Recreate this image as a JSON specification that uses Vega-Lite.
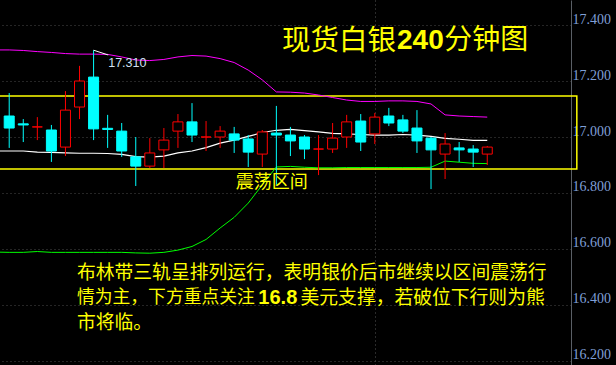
{
  "$schema": "https://vega.github.io/schema/vega-lite/v6.json",
  "width": 571,
  "height": 365,
  "autosize": {"type": "none"},
  "padding": {"left": 0, "top": 0, "right": 45, "bottom": 0},
  "background": "#000000",
  "config": {"view": {"stroke": null}},
  "datasets": {
    "candles": [
      {"i": 0, "open": 17.075, "high": 17.157, "low": 16.961, "close": 17.032},
      {"i": 1, "open": 17.047, "high": 17.064, "low": 16.982, "close": 17.043},
      {"i": 2, "open": 17.036, "high": 17.071, "low": 16.989, "close": 17.036},
      {"i": 3, "open": 17.025, "high": 17.043, "low": 16.911, "close": 16.95},
      {"i": 4, "open": 16.964, "high": 17.164, "low": 16.932, "close": 17.096},
      {"i": 5, "open": 17.107, "high": 17.254, "low": 17.064, "close": 17.2},
      {"i": 6, "open": 17.214, "high": 17.31, "low": 16.989, "close": 17.029},
      {"i": 7, "open": 17.031, "high": 17.079, "low": 16.961, "close": 17.027},
      {"i": 8, "open": 17.021, "high": 17.05, "low": 16.929, "close": 16.95},
      {"i": 9, "open": 16.929, "high": 17.0, "low": 16.825, "close": 16.896},
      {"i": 10, "open": 16.896, "high": 16.996, "low": 16.889, "close": 16.943},
      {"i": 11, "open": 16.954, "high": 17.032, "low": 16.889, "close": 16.989},
      {"i": 12, "open": 17.021, "high": 17.082, "low": 16.961, "close": 17.054},
      {"i": 13, "open": 17.054, "high": 17.121, "low": 16.982, "close": 17.007},
      {"i": 14, "open": 17.0, "high": 17.057, "low": 16.95, "close": 17.0},
      {"i": 15, "open": 17.0, "high": 17.039, "low": 16.961, "close": 17.021},
      {"i": 16, "open": 17.011, "high": 17.036, "low": 16.943, "close": 16.989},
      {"i": 17, "open": 16.993, "high": 17.007, "low": 16.893, "close": 16.946},
      {"i": 18, "open": 16.939, "high": 17.025, "low": 16.893, "close": 17.018},
      {"i": 19, "open": 17.014, "high": 17.111, "low": 16.825, "close": 17.007},
      {"i": 20, "open": 17.007, "high": 17.036, "low": 16.932, "close": 16.986},
      {"i": 21, "open": 17.0, "high": 17.007, "low": 16.921, "close": 16.957},
      {"i": 22, "open": 16.957, "high": 17.007, "low": 16.864, "close": 16.957},
      {"i": 23, "open": 16.957, "high": 17.05, "low": 16.943, "close": 16.996},
      {"i": 24, "open": 17.0, "high": 17.079, "low": 16.961, "close": 17.054},
      {"i": 25, "open": 17.057, "high": 17.082, "low": 16.95, "close": 16.982},
      {"i": 26, "open": 17.011, "high": 17.086, "low": 16.975, "close": 17.071},
      {"i": 27, "open": 17.075, "high": 17.104, "low": 17.039, "close": 17.05},
      {"i": 28, "open": 17.061, "high": 17.079, "low": 17.014, "close": 17.021},
      {"i": 29, "open": 17.032, "high": 17.096, "low": 16.943, "close": 16.986},
      {"i": 30, "open": 16.996, "high": 17.0, "low": 16.814, "close": 16.954},
      {"i": 31, "open": 16.939, "high": 17.014, "low": 16.85, "close": 16.975},
      {"i": 32, "open": 16.961, "high": 16.982, "low": 16.911, "close": 16.954},
      {"i": 33, "open": 16.957, "high": 16.971, "low": 16.893, "close": 16.946},
      {"i": 34, "open": 16.939, "high": 16.968, "low": 16.9, "close": 16.964}
    ],
    "bands": [
      {"i": -1, "upper": 17.311, "mid": 16.95, "lower": 16.589},
      {"i": 0, "upper": 17.311, "mid": 16.95, "lower": 16.588},
      {"i": 1, "upper": 17.309, "mid": 16.95, "lower": 16.588},
      {"i": 2, "upper": 17.305, "mid": 16.946, "lower": 16.591},
      {"i": 3, "upper": 17.302, "mid": 16.945, "lower": 16.588},
      {"i": 4, "upper": 17.298, "mid": 16.943, "lower": 16.588},
      {"i": 5, "upper": 17.296, "mid": 16.942, "lower": 16.588},
      {"i": 6, "upper": 17.296, "mid": 16.942, "lower": 16.588},
      {"i": 7, "upper": 17.295, "mid": 16.941, "lower": 16.588},
      {"i": 8, "upper": 17.286, "mid": 16.938, "lower": 16.588},
      {"i": 9, "upper": 17.275, "mid": 16.93, "lower": 16.586},
      {"i": 10, "upper": 17.273, "mid": 16.928, "lower": 16.585},
      {"i": 11, "upper": 17.277, "mid": 16.932, "lower": 16.588},
      {"i": 12, "upper": 17.286, "mid": 16.943, "lower": 16.596},
      {"i": 13, "upper": 17.291, "mid": 16.95, "lower": 16.609},
      {"i": 14, "upper": 17.289, "mid": 16.962, "lower": 16.634},
      {"i": 15, "upper": 17.28, "mid": 16.978, "lower": 16.675},
      {"i": 16, "upper": 17.266, "mid": 16.989, "lower": 16.713},
      {"i": 17, "upper": 17.239, "mid": 17.002, "lower": 16.764},
      {"i": 18, "upper": 17.204, "mid": 17.016, "lower": 16.829},
      {"i": 19, "upper": 17.161, "mid": 17.024, "lower": 16.893},
      {"i": 20, "upper": 17.16, "mid": 17.027, "lower": 16.895},
      {"i": 21, "upper": 17.157, "mid": 17.023, "lower": 16.892},
      {"i": 22, "upper": 17.15, "mid": 17.018, "lower": 16.89},
      {"i": 23, "upper": 17.141, "mid": 17.013, "lower": 16.89},
      {"i": 24, "upper": 17.132, "mid": 17.011, "lower": 16.891},
      {"i": 25, "upper": 17.127, "mid": 17.009, "lower": 16.891},
      {"i": 26, "upper": 17.127, "mid": 17.007, "lower": 16.891},
      {"i": 27, "upper": 17.129, "mid": 17.007, "lower": 16.891},
      {"i": 28, "upper": 17.129, "mid": 17.009, "lower": 16.891},
      {"i": 29, "upper": 17.127, "mid": 17.007, "lower": 16.891},
      {"i": 30, "upper": 17.118, "mid": 17.002, "lower": 16.892},
      {"i": 31, "upper": 17.079, "mid": 16.995, "lower": 16.914},
      {"i": 32, "upper": 17.075, "mid": 16.992, "lower": 16.91},
      {"i": 33, "upper": 17.073, "mid": 16.988, "lower": 16.906},
      {"i": 34, "upper": 17.071, "mid": 16.988, "lower": 16.905}
    ]
  },
  "layer": [
    {
      "data": {"values": [{}]},
      "mark": {"type": "rect", "filled": false, "stroke": "#ffff00", "strokeWidth": 1.5},
      "encoding": {
        "x": {"datum": -1, "type": "quantitative", "scale": {"domain": [-0.3, 39.6], "nice": false, "zero": false},
              "axis": {"values": [26], "labels": false, "ticks": false, "domain": false, "grid": true, "gridColor": "#555555", "gridDash": [1, 3], "title": null}},
        "x2": {"datum": 40.37},
        "y": {"datum": 17.1464, "type": "quantitative", "scale": {"domain": [16.1857, 17.4893], "nice": false, "zero": false},
              "axis": {"orient": "right", "values": [16.2, 16.4, 16.6, 16.8, 17.0, 17.2, 17.4], "format": ".3f",
                       "labelFont": "Liberation Sans Narrow", "labelFontSize": 14, "labelColor": "#7f9fd6",
                       "labelAlign": "left", "labelBaseline": "alphabetic", "labelPadding": 1, "labelOffset": -2,
                       "labelFlush": false, "labelOverlap": false, "labelBound": false,
                       "ticks": false, "domain": true, "domainColor": "#5a5f66", "domainWidth": 1,
                       "grid": true, "gridColor": "#4a4a4a", "gridDash": [1, 3], "title": null}},
        "y2": {"datum": 16.8857}
      }
    },
    {
      "data": {"name": "bands"},
      "mark": {"type": "line", "color": "#ff00ff", "strokeWidth": 1},
      "encoding": {
        "x": {"field": "i", "type": "quantitative", "title": null},
        "y": {"field": "upper", "type": "quantitative", "title": null}
      }
    },
    {
      "data": {"name": "bands"},
      "mark": {"type": "line", "color": "#ffffff", "strokeWidth": 1.2},
      "encoding": {
        "x": {"field": "i", "type": "quantitative", "title": null},
        "y": {"field": "mid", "type": "quantitative", "title": null}
      }
    },
    {
      "data": {"name": "bands"},
      "mark": {"type": "line", "color": "#00ff00", "strokeWidth": 1},
      "encoding": {
        "x": {"field": "i", "type": "quantitative", "title": null},
        "y": {"field": "lower", "type": "quantitative", "title": null}
      }
    },
    {
      "data": {"name": "candles"},
      "mark": {"type": "rule", "strokeWidth": 1},
      "encoding": {
        "x": {"field": "i", "type": "quantitative", "title": null},
        "y": {"field": "low", "type": "quantitative", "title": null},
        "y2": {"field": "high"},
        "color": {"condition": {"test": "datum.close >= datum.open", "value": "#ff0000"}, "value": "#00ffff"}
      }
    },
    {
      "data": {"name": "candles"},
      "mark": {"type": "bar", "width": 10, "strokeWidth": 1},
      "encoding": {
        "x": {"field": "i", "type": "quantitative", "title": null},
        "y": {"field": "open", "type": "quantitative", "title": null},
        "y2": {"field": "close"},
        "fill": {"condition": {"test": "datum.close >= datum.open", "value": "#000000"}, "value": "#00ffff"},
        "stroke": {"condition": {"test": "datum.close >= datum.open", "value": "#ff0000"}, "value": "#00ffff"}
      }
    },
    {
      "data": {"values": [{}]},
      "mark": {"type": "rule", "color": "#ffffff", "strokeWidth": 1},
      "encoding": {
        "x": {"datum": 6, "type": "quantitative"},
        "x2": {"datum": 7.04},
        "y": {"datum": 17.31, "type": "quantitative"},
        "y2": {"datum": 17.293}
      }
    },
    {
      "data": {"values": [{}]},
      "mark": {"type": "text", "text": "17.310", "align": "left", "baseline": "middle", "font": "Liberation Sans", "fontSize": 12.5, "color": "#cfe0f2"},
      "encoding": {
        "x": {"datum": 7.04, "type": "quantitative"},
        "y": {"datum": 17.2643, "type": "quantitative"}
      }
    },
    {
      "data": {"values": [{}]},
      "mark": {"type": "text", "text": "现货白银", "align": "left", "baseline": "middle", "font": "Noto Sans CJK SC", "fontSize": 28.5, "color": "#ffff00"},
      "encoding": {
        "x": {"datum": 19.4, "type": "quantitative"},
        "y": {"datum": 17.3429, "type": "quantitative"}
      }
    },
    {
      "data": {"values": [{}]},
      "mark": {"type": "text", "text": "240", "align": "left", "baseline": "middle", "font": "Liberation Sans", "fontWeight": "bold", "fontSize": 28, "color": "#ffff00"},
      "encoding": {
        "x": {"datum": 27.58, "type": "quantitative"},
        "y": {"datum": 17.3429, "type": "quantitative"}
      }
    },
    {
      "data": {"values": [{}]},
      "mark": {"type": "text", "text": "分钟图", "align": "left", "baseline": "middle", "font": "Noto Sans CJK SC", "fontSize": 28, "color": "#ffff00"},
      "encoding": {
        "x": {"datum": 30.94, "type": "quantitative"},
        "y": {"datum": 17.3429, "type": "quantitative"}
      }
    },
    {
      "data": {"values": [{}]},
      "mark": {"type": "text", "text": "震荡区间", "align": "left", "baseline": "middle", "font": "Noto Sans CJK SC", "fontSize": 18, "color": "#ffff00"},
      "encoding": {
        "x": {"datum": 16.12, "type": "quantitative"},
        "y": {"datum": 16.834, "type": "quantitative"}
      }
    },
    {
      "data": {"values": [{}]},
      "mark": {"type": "text", "text": "布林带三轨呈排列运行，表明银价后市继续以区间震荡行", "align": "left", "baseline": "middle", "font": "Noto Sans CJK SC", "fontSize": 18.8, "color": "#ffff00"},
      "encoding": {
        "x": {"datum": 4.82, "type": "quantitative"},
        "y": {"datum": 16.5132, "type": "quantitative"}
      }
    },
    {
      "data": {"values": [{}]},
      "mark": {"type": "text", "text": "情为主，下方重点关注", "align": "left", "baseline": "middle", "font": "Noto Sans CJK SC", "fontSize": 17.8, "color": "#ffff00"},
      "encoding": {
        "x": {"datum": 4.82, "type": "quantitative"},
        "y": {"datum": 16.4239, "type": "quantitative"}
      }
    },
    {
      "data": {"values": [{}]},
      "mark": {"type": "text", "text": "16.8", "align": "left", "baseline": "middle", "font": "Liberation Sans", "fontWeight": "bold", "fontSize": 20, "color": "#ffff00"},
      "encoding": {
        "x": {"datum": 17.72, "type": "quantitative"},
        "y": {"datum": 16.4239, "type": "quantitative"}
      }
    },
    {
      "data": {"values": [{}]},
      "mark": {"type": "text", "text": "美元支撑，若破位下行则为熊", "align": "left", "baseline": "middle", "font": "Noto Sans CJK SC", "fontSize": 18.8, "color": "#ffff00"},
      "encoding": {
        "x": {"datum": 20.72, "type": "quantitative"},
        "y": {"datum": 16.4239, "type": "quantitative"}
      }
    },
    {
      "data": {"values": [{}]},
      "mark": {"type": "text", "text": "市将临。", "align": "left", "baseline": "middle", "font": "Noto Sans CJK SC", "fontSize": 18.8, "color": "#ffff00"},
      "encoding": {
        "x": {"datum": 4.82, "type": "quantitative"},
        "y": {"datum": 16.3346, "type": "quantitative"}
      }
    }
  ]
}
